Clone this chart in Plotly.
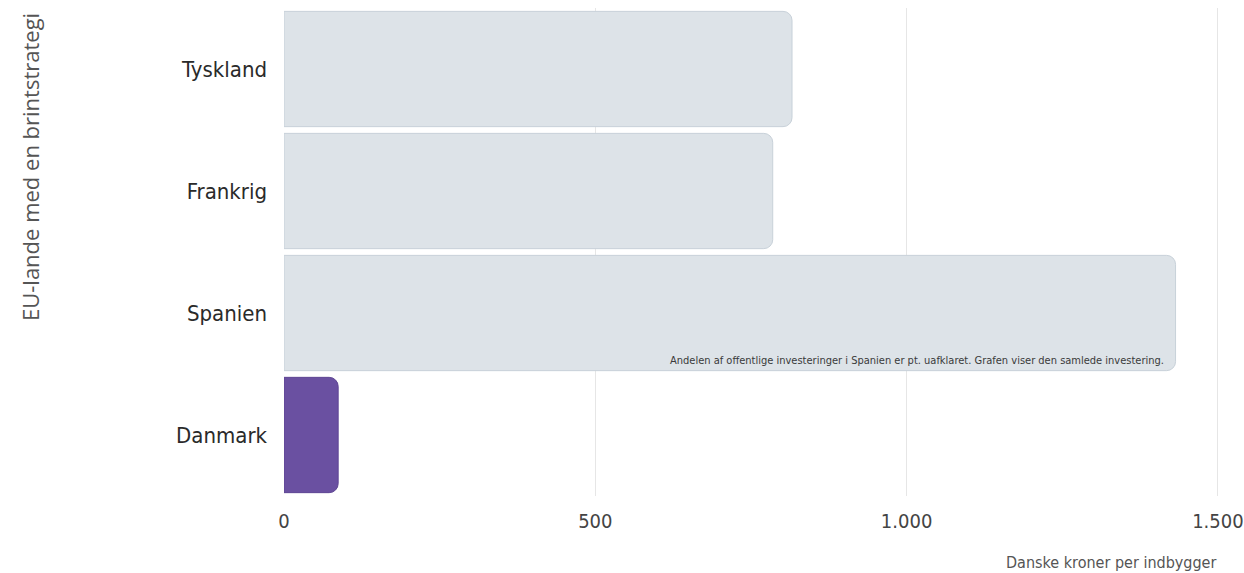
import plotly.graph_objects as go

countries = ["Tyskland", "Frankrig", "Spanien", "Danmark"]
values = [816, 785, 1432, 87]
colors = ["#dde3e8", "#dde3e8", "#dde3e8", "#6a50a1"]
line_colors = ["#c8d1d9", "#c8d1d9", "#c8d1d9", "#5e4593"]
tick_vals = [0, 500, 1000, 1500]
note = "Andelen af offentlige investeringer i Spanien er pt. uafklaret. Grafen viser den samlede investering."

fig = go.Figure(go.Bar(
    x=values, y=countries, orientation="h",
    marker=dict(color=colors, line=dict(color=line_colors, width=1), cornerradius=9),
    hoverinfo="x+y",
))

font = "DejaVu Sans Condensed, Liberation Sans Narrow, sans-serif"
L, R, T, B = 284, 23, 8, 77
pw, ph = 1244 - L - R, 573 - T - B

fig.update_layout(
    width=1244, height=573,
    margin=dict(l=L, r=R, t=T, b=B, autoexpand=False),
    paper_bgcolor="white", plot_bgcolor="white",
    separators=",.",
    bargap=0.055,
    showlegend=False,
    xaxis=dict(range=[0, 1505], tickvals=tick_vals, tickformat=",",
               showgrid=True, gridcolor="#e6e6e6", gridwidth=1, zeroline=False,
               tickfont=dict(family=font, size=20, color="#444"), ticks="",
               ticklabelstandoff=11, ticklabeloverflow="allow", automargin=False,
               showline=False),
    yaxis=dict(autorange="reversed", tickfont=dict(family=font, size=22, color="#2a2a2a"),
               ticks="", ticklabelstandoff=16, showgrid=False, zeroline=False,
               automargin=False),
    annotations=[
        dict(text="EU-lande med en brintstrategi", xref="paper", yref="paper",
             x=-(L - 30) / pw, y=1 - (167 - T) / ph, textangle=-90, showarrow=False,
             xanchor="center", yanchor="middle",
             font=dict(family="Open Sans, sans-serif", size=22, color="#555")),
        dict(text="Danske kroner per indbygger", xref="paper", yref="paper",
             x=(1218 - L) / pw, y=-(562 - (573 - B)) / ph, xanchor="right", yanchor="middle",
             showarrow=False, font=dict(family=font, size=16, color="#555")),
        dict(text=note, x=values[2], y=countries[2], xref="x", yref="y",
             xanchor="right", yanchor="middle", xshift=-10, yshift=-47, showarrow=False,
             font=dict(family=font, size=11, color="#3a3a3a")),
    ],
)

fig.write_html("out.html")
